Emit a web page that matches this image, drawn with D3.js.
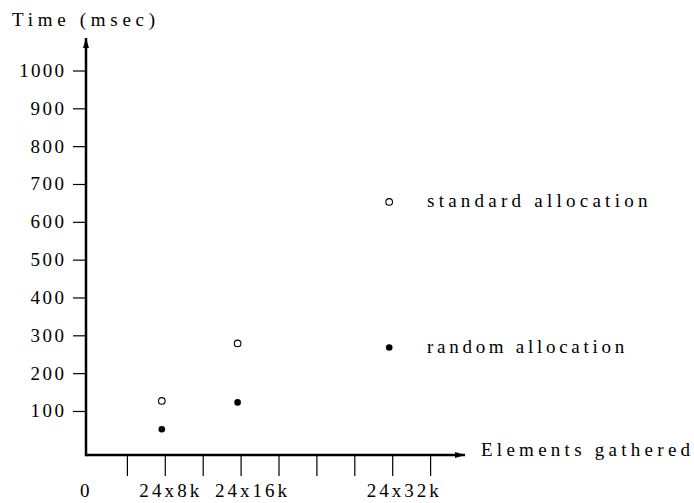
<!DOCTYPE html>
<html>
<head>
<meta charset="utf-8">
<script src="https://cdn.jsdelivr.net/npm/d3@7"></script>
</head>
<body style="margin:0">
<svg id="chart"></svg>
<script>
// x in thousands of elements per 24 processors
const xTicks = [4, 8, 12, 16, 20, 24, 28, 32, 36];
const xLabels = [
  {v: 0, text: "0"},
  {v: 8, text: "24x8k"},
  {v: 16, text: "24x16k"},
  {v: 32, text: "24x32k"}
];
const yTicks = [100, 200, 300, 400, 500, 600, 700, 800, 900, 1000];

const standardAlloc = [
  {x: 8, y: 128},
  {x: 16, y: 280},
  {x: 32, y: 654}
];
const randomAlloc = [
  {x: 8, y: 53},
  {x: 16, y: 124},
  {x: 32, y: 269}
];

const width = 694, height = 503;
const FSIZE = 19;

const svg = d3.select("#chart")
  .attr("width", width)
  .attr("height", height);

const xScale = d3.scaleLinear().domain([0, 36]).range([86, 86 + 9 * 37.9]);
const yScale = d3.scaleLinear().domain([0, 1000]).range([449.3, 71]);

const axisY = 455;   // x axis drawn a bit below the zero line
const axisX = 86;
const tickShift = 3.5;

// serif face, glyphs spread out like the original typesetting
function serif(sel, perChar) {
  sel.attr("font-family", () => "Liberation Serif")
    .attr("font-size", FSIZE)
    .attr("style", "font-family: 'Liberation Serif', 'Times New Roman', serif !important")
    .attr("textLength", d => {
      const s = (d !== null && typeof d === "object") ? d.text : String(d);
      return s.length * perChar;
    })
    .attr("lengthAdjust", "spacing");
}

svg.append("defs").append("marker")
  .attr("id", "arrow")
  .attr("viewBox", "0 0 10 6")
  .attr("refX", 10).attr("refY", 3)
  .attr("markerWidth", 10).attr("markerHeight", 6)
  .attr("markerUnits", "userSpaceOnUse")
  .attr("orient", "auto")
  .append("path")
  .attr("d", "M0,0 L10,3 L0,6 Z")
  .attr("fill", "#000");

// axes
svg.append("line")
  .attr("x1", axisX).attr("y1", axisY)
  .attr("x2", 465).attr("y2", axisY)
  .attr("stroke", "#000").attr("stroke-width", 2.5)
  .attr("marker-end", "url(#arrow)");

svg.append("line")
  .attr("x1", axisX).attr("y1", axisY + 1.2)
  .attr("x2", axisX).attr("y2", 38)
  .attr("stroke", "#000").attr("stroke-width", 2.5)
  .attr("marker-end", "url(#arrow)");

// y ticks
svg.append("g").selectAll("line")
  .data(yTicks)
  .join("line")
  .attr("x1", 73).attr("x2", axisX)
  .attr("y1", d => yScale(d)).attr("y2", d => yScale(d))
  .attr("stroke", "#000").attr("stroke-width", 1.2);

svg.append("g").selectAll("text")
  .data(yTicks)
  .join("text")
  .attr("x", 64)
  .attr("y", d => yScale(d) + 6)
  .attr("text-anchor", "end")
  .call(serif, 11.2)
  .text(d => d);

// x ticks
svg.append("g").selectAll("line")
  .data(xTicks)
  .join("line")
  .attr("x1", d => xScale(d) + tickShift).attr("x2", d => xScale(d) + tickShift)
  .attr("y1", axisY).attr("y2", 476)
  .attr("stroke", "#000").attr("stroke-width", 1.2);

svg.append("g").selectAll("text")
  .data(xLabels)
  .join("text")
  .attr("x", d => d.v === 0 ? xScale(0) - 6 : xScale(d.v) + tickShift - 26)
  .attr("y", 497)
  .call(serif, 12)
  .text(d => d.text);

// points
svg.append("g").selectAll("circle")
  .data(standardAlloc)
  .join("circle")
  .attr("cx", d => xScale(d.x))
  .attr("cy", d => yScale(d.y))
  .attr("r", 3.3)
  .attr("fill", "#fff")
  .attr("stroke", "#000")
  .attr("stroke-width", 1.1);

svg.append("g").selectAll("circle")
  .data(randomAlloc)
  .join("circle")
  .attr("cx", d => xScale(d.x))
  .attr("cy", d => yScale(d.y))
  .attr("r", 3.3)
  .attr("fill", "#000");

// series labels next to the last points
const seriesLabels = [
  {text: "standard allocation", p: standardAlloc[2]},
  {text: "random allocation", p: randomAlloc[2]}
];
svg.append("g").selectAll("text")
  .data(seriesLabels)
  .join("text")
  .attr("x", 427)
  .attr("y", d => yScale(d.p.y) + 5)
  .call(serif, 11.6)
  .text(d => d.text);

// axis titles
svg.append("text")
  .datum({text: "Time (msec)"})
  .attr("x", 12).attr("y", 26)
  .call(serif, 13)
  .text(d => d.text);

svg.append("text")
  .datum({text: "Elements gathered"})
  .attr("x", 481).attr("y", 456)
  .call(serif, 12.3)
  .text(d => d.text);
</script>
</body>
</html>
